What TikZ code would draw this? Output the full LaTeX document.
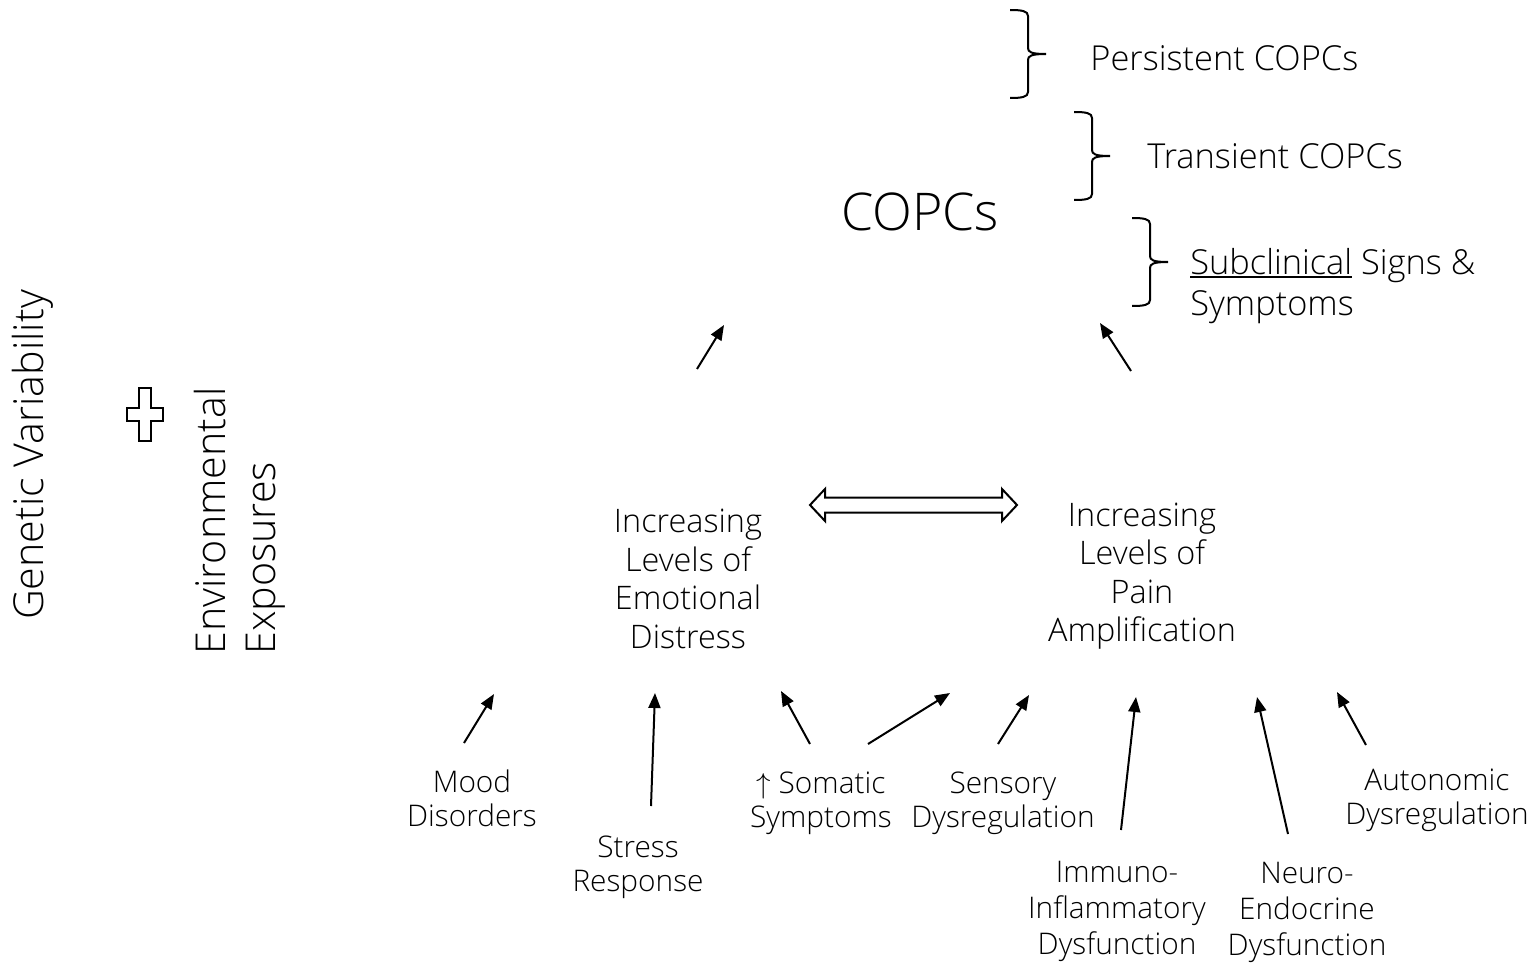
\documentclass[tikz,border=0pt]{standalone}
\usepackage{fontspec}
\setmainfont{Open Sans Light}
\usetikzlibrary{arrows.meta}
% underline with a heavier rule set close to the baseline
\newcommand\ulined[1]{\setbox0\hbox{#1}\rlap{\rule[-2pt]{\wd0}{1pt}}\box0\relax}
\begin{document}
\begin{tikzpicture}[x=0.5pt,y=-0.5pt,
  big/.style={font=\fontsize{16.2}{19.25}\selectfont, align=center, inner sep=0pt},
  small/.style={font=\fontsize{14.9}{17}\selectfont, align=center, inner sep=0pt},
  tall/.style={small, font=\fontsize{14.9}{18}\selectfont},
  mid/.style={font=\fontsize{17.2}{20.5}\selectfont, align=left, inner sep=0pt, anchor=west},
  side/.style={font=\fontsize{20.6}{25}\selectfont, rotate=90, inner sep=0pt},
  arr/.style={-{Triangle[length=7.5pt,width=6pt]}, line width=1pt},
  outline/.style={line width=1pt, line join=miter},
  stagebrace/.pic={
    \draw[line width=1pt] (0,0) .. controls (12,0) and (18,1) .. (18,6) -- (18,38)
      .. controls (18,42) and (21,44) .. (36,44)
      .. controls (21,44) and (18,46) .. (18,50) -- (18,82)
      .. controls (18,87) and (12,88) .. (0,88);
  }]
\useasboundingbox (0,0) rectangle (1536,963);

% left-hand factors
\node[side] (gen) at (33,455) {Genetic Variability};
\node[side, align=left] (env) at (240,521) {Environmental\\Exposures};
\draw[outline] (139,388) -- (151,388) -- (151,408) -- (163,408) -- (163,421)
  -- (151,421) -- (151,441) -- (139,441) -- (139,421) -- (127,421)
  -- (127,408) -- (139,408) -- cycle;

% top outcome and its stages
\node[font=\fontsize{26}{30}\selectfont, inner sep=0pt] (copcs) at (920,212) {COPCs};
\pic at (1010,10) {stagebrace};
\pic at (1074,112) {stagebrace};
\pic at (1132,218) {stagebrace};
\node[mid] (pers) at (1090,58) {Persistent COPCs};
\node[mid] (trans) at (1147,156) {Transient COPCs};
\node[mid] (sub) at (1190,286) {\ulined{Subclinical} Signs \&\\Symptoms};

% intermediate pathways
\node[big] (emo) at (688,579) {Increasing\\Levels of\\Emotional\\Distress};
\node[big] (pain) at (1142,576) {Increasing\\Levels of\\Pain\\Amplification};

% two-way block arrow between the pathways
\draw[outline] (810,505) -- (825,489) -- (825,497.5) -- (1002,497.5) -- (1002,489)
  -- (1017,505) -- (1002,521) -- (1002,512.5) -- (825,512.5) -- (825,521) -- cycle;

% pathways lead up to COPCs
\coordinate (e0) at (697,369); \coordinate (e1) at (724,325);
\coordinate (p0) at (1131,371); \coordinate (p1) at (1100,323);
\draw[arr] (e0) -- (e1);
\draw[arr] (p0) -- (p1);

% contributing domains
\node[small] (mood) at (472,798) {Mood\\Disorders};
\node[small] (stress) at (638,867) {Stress\\Response};
\node[small] (soma) at (821,803) {$\uparrow$ Somatic\\Symptoms};
\node[small] (sens) at (1003,803) {Sensory\\Dysregulation};
\node[tall] (immu) at (1117,911) {Immuno-\\Inflammatory\\Dysfunction};
\node[tall] (neuro) at (1307,912) {Neuro-\\Endocrine\\Dysfunction};
\node[small] (auto) at (1437,800) {Autonomic\\Dysregulation};

\coordinate (m0) at (464,743); \coordinate (m1) at (494,694);
\coordinate (s0) at (651,806); \coordinate (s1) at (655,693);
\coordinate (a0) at (810,744); \coordinate (a1) at (781,691);
\coordinate (b0) at (868,744); \coordinate (b1) at (950,693);
\coordinate (d0) at (998,744); \coordinate (d1) at (1029,695);
\coordinate (i0) at (1121,830); \coordinate (i1) at (1136,697);
\coordinate (n0) at (1288,834); \coordinate (n1) at (1257,697);
\coordinate (u0) at (1366,745); \coordinate (u1) at (1337,692);
\draw[arr] (m0) -- (m1);
\draw[arr] (s0) -- (s1);
\draw[arr] (a0) -- (a1);
\draw[arr] (b0) -- (b1);
\draw[arr] (d0) -- (d1);
\draw[arr] (i0) -- (i1);
\draw[arr] (n0) -- (n1);
\draw[arr] (u0) -- (u1);
\end{tikzpicture}
\end{document}
